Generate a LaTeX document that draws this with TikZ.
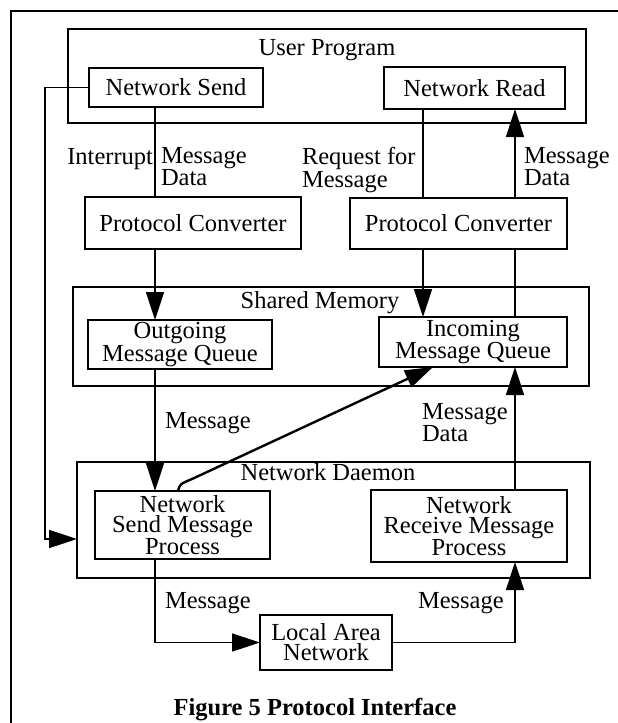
\documentclass[tikz,border=0pt]{standalone}
\usepackage{fontspec}
\setmainfont{Liberation Serif}
\usetikzlibrary{arrows.meta}
\newcommand\dfont{\fontsize{24.5}{20}\selectfont}
\begin{document}
\begin{tikzpicture}[x=1pt,y=-1pt,
  every node/.style={inner sep=0pt, outer sep=0pt, font=\dfont},
  box/.style={draw, line width=2pt, align=center},
  lbl/.style={align=left},
  conn/.style={line width=1.6pt},
  arr/.style={conn, -{Triangle[length=28pt,width=18pt]}},
]
\useasboundingbox (0,0) rectangle (618,723);
% outer frame
\draw[line width=2.5pt] (11,723) -- (11,11) -- (618,11);

% containers
\node[box, minimum width=518pt, minimum height=94pt] (up) at (327,76) {};
\node[box, minimum width=516pt, minimum height=99pt] (sm) at (331,336.5) {};
\node[box, minimum width=513pt, minimum height=116pt] (nd) at (333.5,520) {};
\node[anchor=base] (upt) at (327,55) {User Program};
\node[anchor=base] (smt) at (320,308) {Shared Memory};
\node[anchor=base] (ndt) at (328,480) {Network Daemon};

% boxes
\node[box, minimum width=174pt, minimum height=39pt] (ns) at (176,87.5) {Network Send};
\node[box, minimum width=181pt, minimum height=42pt] (nr) at (474.5,88) {Network Read};
\node[box, minimum width=216pt, minimum height=52pt] (pcl) at (193,223) {Protocol Converter};
\node[box, minimum width=217pt, minimum height=51pt] (pcr) at (458.5,223.5) {Protocol Converter};
\node[box, minimum width=184pt, minimum height=49pt] (oq) at (180,344.5) {Outgoing\\Message Queue};
\node[box, minimum width=188pt, minimum height=50pt] (iq) at (473,342) {Incoming\\Message Queue};
\node[box, minimum width=175pt, minimum height=68pt] (sp) at (182.5,525) {Network\\Send Message\\Process};
\node[box, minimum width=196pt, minimum height=72pt] (rp) at (469,526) {Network\\Receive Message\\Process};
\node[box, minimum width=132pt, minimum height=55pt] (lan) at (326,642.5) {Local Area\\Network};

% x positions of connectors
\coordinate (xL) at (155,0);
\coordinate (xQ) at (423,0);
\coordinate (xR) at (515,0);
\coordinate (xS) at (178,0);
\coordinate (xD) at (433,0);
\coordinate (fb) at (45,539);

% connectors
\draw[arr] (ns.west) -| (fb) -- (fb -| nd.west);
\draw[conn] (ns.south -| xL) -- (pcl.north -| xL);
\draw[arr] (pcl.south -| xL) -- (oq.north -| xL);
\draw[arr] (oq.south -| xL) -- (sp.north -| xL);
\draw[arr] (sp.south -| xL) |- (lan.west);
\draw[arr] (lan.east) -| (rp.south -| xR);
\draw[arr] (rp.north -| xR) -- (iq.south -| xR);
\draw[conn] (iq.north -| xR) -- (pcr.south -| xR);
\draw[arr] (pcr.north -| xR) -- (nr.south -| xR);
\draw[conn] (nr.south -| xQ) -- (pcr.north -| xQ);
\draw[arr] (pcr.south -| xQ) -- (iq.north -| xQ);
\draw[arr, line width=2.4pt] (sp.north -| xS) .. controls (180,484) .. (192,479) -- (iq.south -| xD);

% labels
\node[anchor=base east] (lint) at (153,164) {Interrupt};
\node[lbl, anchor=north west] (lmd1) at (161,147.5) {Message\\Data};
\node[lbl, anchor=north west] (lreq) at (302,147.5) {Request for\\Message};
\node[lbl, anchor=north west] (lmd2) at (524,147.5) {Message\\Data};
\node[anchor=base west] (lm1) at (165,428) {Message};
\node[lbl, anchor=north west] (lmd3) at (422,403.5) {Message\\Data};
\node[anchor=base west] (lm2) at (165,608) {Message};
\node[anchor=base west] (lm3) at (418,608) {Message};

% caption
\node[anchor=base, font=\dfont\bfseries] (cap) at (315,715) {Figure 5 Protocol Interface};
\end{tikzpicture}
\end{document}
